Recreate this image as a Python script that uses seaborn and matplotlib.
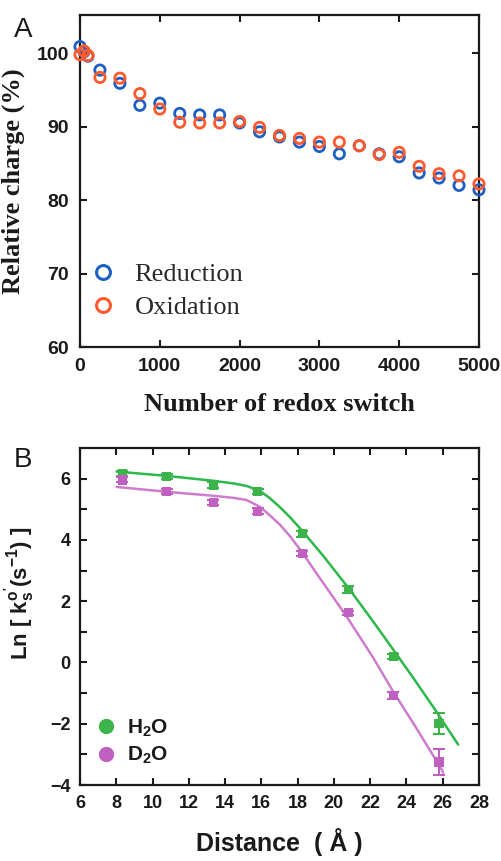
import matplotlib
matplotlib.use("Agg")
import matplotlib.pyplot as plt
import seaborn as sns
import pandas as pd
from matplotlib.lines import Line2D

# ---------------- Panel A data ----------------
cycles = [0, 50, 100, 250, 500, 750, 1000, 1250, 1500, 1750, 2000, 2250, 2500,
          2750, 3000, 3250, 3500, 3750, 4000, 4250, 4500, 4750, 5000]
reduction = [100.9, 100.2, 99.6, 97.7, 95.9, 92.9, 93.2, 91.8, 91.6, 91.6, 90.5,
             89.3, 88.6, 87.9, 87.3, 86.3, 87.4, 86.3, 85.9, 83.7, 83.0, 82.0, 81.4]
oxidation = [99.8, 100.3, 99.7, 96.7, 96.6, 94.5, 92.4, 90.6, 90.5, 90.5, 90.7,
             89.9, 88.8, 88.4, 87.9, 87.9, 87.4, 86.2, 86.5, 84.6, 83.6, 83.3, 82.2]
a_xticks = [0, 1000, 2000, 3000, 4000, 5000]
a_yticks = [60, 70, 80, 90, 100]

# ---------------- Panel B data ----------------
distance = [8.33, 10.78, 13.35, 15.8, 18.26, 20.8, 23.27, 25.8]
h2o = [6.17, 6.06, 5.78, 5.58, 4.2, 2.39, 0.19, -2.0]
h2o_err = [0.07, 0.08, 0.1, 0.07, 0.1, 0.12, 0.08, 0.35]
d2o = [5.96, 5.58, 5.22, 4.93, 3.55, 1.62, -1.08, -3.25]
d2o_err = [0.08, 0.07, 0.08, 0.1, 0.08, 0.07, 0.1, 0.42]

h2o_fit_x = [8.02, 10.78, 13.35, 14.5, 15.19, 15.92, 16.47, 17.02, 17.58, 18.22,
             19.41, 20.79, 22.0, 23.09, 24.37, 25.6, 26.85]
h2o_fit_y = [6.23, 6.09, 5.93, 5.84, 5.76, 5.6, 5.36, 5.07, 4.74, 4.32,
             3.48, 2.44, 1.47, 0.57, -0.5, -1.56, -2.68]
d2o_fit_x = [8.02, 10.78, 13.35, 14.5, 15.19, 15.92, 16.47, 17.02, 17.58, 18.22,
             19.05, 20.7, 22.17, 23.27, 24.5, 25.85, 26.03]
d2o_fit_y = [5.73, 5.57, 5.44, 5.37, 5.30, 5.08, 4.80, 4.5, 4.12, 3.62,
             2.9, 1.5, 0.15, -0.95, -2.1, -3.4, -3.6]
b_xticks = [6, 8, 10, 12, 14, 16, 18, 20, 22, 24, 26, 28]
b_yticks = [-4, -2, 0, 2, 4, 6]

# ---------------- style ----------------
sns.set_theme(style="ticks")
plt.rcParams["font.family"] = ["Liberation Sans", "DejaVu Sans"]
plt.rcParams["mathtext.fontset"] = "custom"
plt.rcParams["mathtext.rm"] = "Liberation Sans:bold"
plt.rcParams["mathtext.it"] = "Liberation Sans:bold"
plt.rcParams["mathtext.bf"] = "Liberation Sans:bold"

BLUE = "#1f5fc4"
ORANGE = "#ff5a2e"
GREEN_L = "#2db84b"
GREEN_M = "#3cb44a"
PURPLE_L = "#cf7ccf"
PURPLE_M = "#c060c0"

W, H = 501, 861
fig = plt.figure(figsize=(W / 100, H / 100), dpi=100)

def frac(l, t, r, b):
    return [l / W, 1 - b / H, (r - l) / W, (b - t) / H]

def style_axes(ax):
    for s in ax.spines.values():
        s.set_linewidth(1.6)
        s.set_color("#1a1a1a")
    ax.tick_params(direction="in", length=5, width=1.5, top=True, right=True,
                   colors="#1a1a1a", labelcolor="#1a1a1a")

# ---------------- Panel A ----------------
axA = fig.add_axes(frac(80, 15, 479, 347))
dfA = pd.DataFrame({
    "cycle": cycles * 2,
    "charge": reduction + oxidation,
    "kind": ["Reduction"] * len(cycles) + ["Oxidation"] * len(cycles),
})
sns.scatterplot(data=dfA, x="cycle", y="charge", hue="kind",
                palette={"Reduction": BLUE, "Oxidation": ORANGE},
                marker="o", s=55, linewidth=2.0,
                legend=False, ax=axA, clip_on=False, zorder=3)
for coll in axA.collections:
    fc = coll.get_facecolors()
    coll.set_edgecolors(fc)
    coll.set_facecolors("none")
axA.set_xlim(0, 5000)
axA.set_ylim(60, 105.2)
axA.set_xticks(a_xticks)
axA.set_yticks(a_yticks)
style_axes(axA)
axA.tick_params(labelsize=14, pad=8)
for lab in axA.get_xticklabels() + axA.get_yticklabels():
    lab.set_fontweight("bold")
axA.set_xlabel("Number of redox switch", family=["Liberation Serif"],
               fontweight="bold", fontsize=19, color="#1a1a1a", labelpad=13)
axA.set_ylabel("Relative charge (%)", family=["Liberation Serif"],
               fontweight="bold", fontsize=19, color="#1a1a1a", labelpad=8)
hA = [Line2D([], [], marker="o", ls="", mfc="none", mec=BLUE, mew=2.2, ms=10),
      Line2D([], [], marker="o", ls="", mfc="none", mec=ORANGE, mew=2.2, ms=10)]
legA = axA.legend(hA, ["Reduction", "Oxidation"], loc="lower left",
                  bbox_to_anchor=(0.018, 0.085), frameon=False, handlelength=1.2,
                  handletextpad=0.6, labelspacing=0.35, borderpad=0, borderaxespad=0,
                  prop={"family": "Liberation Serif", "size": 19})
for t in legA.get_texts():
    t.set_color("#2a2a2a")
fig.text(23 / W, 1 - 30 / H, "A", fontsize=20, ha="center", va="center", color="#1a1a1a")

# ---------------- Panel B ----------------
axB = fig.add_axes(frac(80, 448, 479, 785))
dfB = pd.DataFrame({
    "d": distance * 2,
    "lnk": h2o + d2o,
    "solv": ["H2O"] * len(distance) + ["D2O"] * len(distance),
})
dfFit = pd.DataFrame({
    "d": h2o_fit_x + d2o_fit_x,
    "lnk": h2o_fit_y + d2o_fit_y,
    "solv": ["H2O"] * len(h2o_fit_x) + ["D2O"] * len(d2o_fit_x),
})
sns.lineplot(data=dfFit, x="d", y="lnk", hue="solv", sort=False,
             palette={"H2O": GREEN_L, "D2O": PURPLE_L}, linewidth=1.8,
             legend=False, ax=axB, zorder=2)
axB.errorbar(distance, h2o, yerr=h2o_err, fmt="none", ecolor=GREEN_M,
             elinewidth=1.5, capsize=4, capthick=1.5, zorder=3)
axB.errorbar(distance, d2o, yerr=d2o_err, fmt="none", ecolor=PURPLE_M,
             elinewidth=1.5, capsize=4, capthick=1.5, zorder=3)
sns.scatterplot(data=dfB, x="d", y="lnk", hue="solv",
                palette={"H2O": GREEN_M, "D2O": PURPLE_M}, marker="s", s=45,
                linewidth=0, legend=False, ax=axB, zorder=4)
axB.set_xlim(6, 28)
axB.set_ylim(-4, 7)
axB.set_xticks(b_xticks)
axB.set_yticks(b_yticks)
axB.set_yticks([-3, -1, 1, 3, 5], minor=True)
style_axes(axB)
axB.tick_params(which="minor", direction="in", length=5, width=1.5,
                top=True, right=True, colors="#1a1a1a")
axB.tick_params(labelsize=13, pad=7)
for lab in axB.get_xticklabels() + axB.get_yticklabels():
    lab.set_fontweight("bold")
axB.set_xlabel("Distance  ( Å )", fontweight="bold", fontsize=18,
               color="#1a1a1a", labelpad=12)
axB.set_ylabel(r"Ln [ k$_s^{o'}$(s$^{-1}$) ]", fontweight="bold", fontsize=16,
               color="#1a1a1a")
axB.yaxis.set_label_coords(-0.11, 0.57)
hB = [Line2D([], [], marker="o", ls="", color=GREEN_M, ms=10),
      Line2D([], [], marker="o", ls="", color=PURPLE_M, ms=10)]
legB = axB.legend(hB, [r"H$_2$O", r"D$_2$O"], loc="lower left",
                  bbox_to_anchor=(0.04, 0.055), frameon=False, handlelength=1.0,
                  handletextpad=0.5, labelspacing=0.3, borderpad=0, borderaxespad=0,
                  prop={"weight": "bold", "size": 15})
for t in legB.get_texts():
    t.set_color("#1a1a1a")
fig.text(23 / W, 1 - 460 / H, "B", fontsize=20, ha="center", va="center", color="#1a1a1a")

fig.savefig("out.png", dpi=100)
